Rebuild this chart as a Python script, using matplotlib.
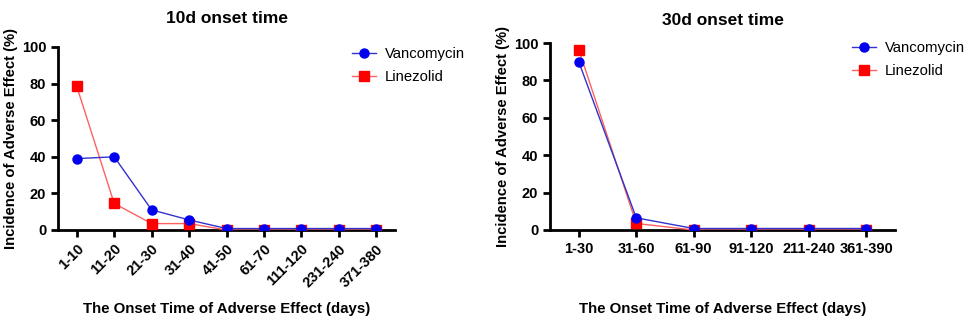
import matplotlib.pyplot as plt

plt.rcParams["font.family"] = ["Liberation Sans", "DejaVu Sans"]

# 10-day bins
cats_10d = ["1-10", "11-20", "21-30", "31-40", "41-50", "61-70", "111-120", "231-240", "371-380"]
vanco_10d = [39, 40, 11, 5.5, 0.8, 0.8, 0.8, 0.8, 0.8]
linez_10d = [78.5, 14.5, 3.5, 3.5, 0, 0, 0, 0, 0]

# 30-day bins
cats_30d = ["1-30", "31-60", "61-90", "91-120", "211-240", "361-390"]
vanco_30d = [90, 6.5, 0.8, 0.8, 0.8, 0.8]
linez_30d = [96.5, 3.5, 0, 0, 0, 0]

fig = plt.figure(figsize=(9.69, 3.21), dpi=100)
ax1 = fig.add_axes([0.0599, 0.2835, 0.3477, 0.5701])
ax2 = fig.add_axes([0.5676, 0.2835, 0.3560, 0.5825])


def draw(ax, cats, vanco, linez, title, rotate, leg_anchor, xpad, tpad):
    x = range(len(cats))
    ax.plot(x, linez, color="#ff6060", lw=1, marker="s", ms=6.5,
            mfc="#ff0000", mec="#ff0000", label="Linezolid", zorder=3)
    ax.plot(x, vanco, color="#3333cc", lw=1, marker="o", ms=6.5,
            mfc="#0000ee", mec="#0000ee", label="Vancomycin", zorder=4)
    ax.set_xlim(-0.5, len(cats) - 0.5)
    ax.set_ylim(0, 100)
    ax.set_yticks([0, 20, 40, 60, 80, 100])
    ax.set_xticks(list(x))
    if rotate:
        ax.set_xticklabels(cats, rotation=45, ha="right", rotation_mode="anchor")
    else:
        ax.set_xticklabels(cats)
    for s in ["top", "right"]:
        ax.spines[s].set_visible(False)
    for s in ["left", "bottom"]:
        ax.spines[s].set_linewidth(2)
    ax.tick_params(width=2, length=5, labelsize=10.5)
    for lab in ax.get_xticklabels() + ax.get_yticklabels():
        lab.set_fontweight("bold")
    ax.set_title(title, fontsize=12.5, fontweight="bold", pad=tpad)
    ax.set_ylabel("Incidence of Adverse Effect (%)", fontsize=10.6, fontweight="bold",
                  labelpad=3)
    ax.set_xlabel("The Onset Time of Adverse Effect (days)", fontsize=10.8,
                  fontweight="bold", labelpad=xpad)
    h, l = ax.get_legend_handles_labels()
    ax.legend(h[::-1], l[::-1], loc="upper left", bbox_to_anchor=leg_anchor,
              frameon=False, fontsize=10.7, handlelength=1.6, handletextpad=0.6,
              labelspacing=0.6, borderaxespad=0)


draw(ax1, cats_10d, vanco_10d, linez_10d, "10d onset time", True, (0.855, 1.03), 9, 17)
draw(ax2, cats_30d, vanco_30d, linez_30d, "30d onset time", False, (0.858, 1.04), 33, 13)

fig.savefig("out.png", dpi=100)
